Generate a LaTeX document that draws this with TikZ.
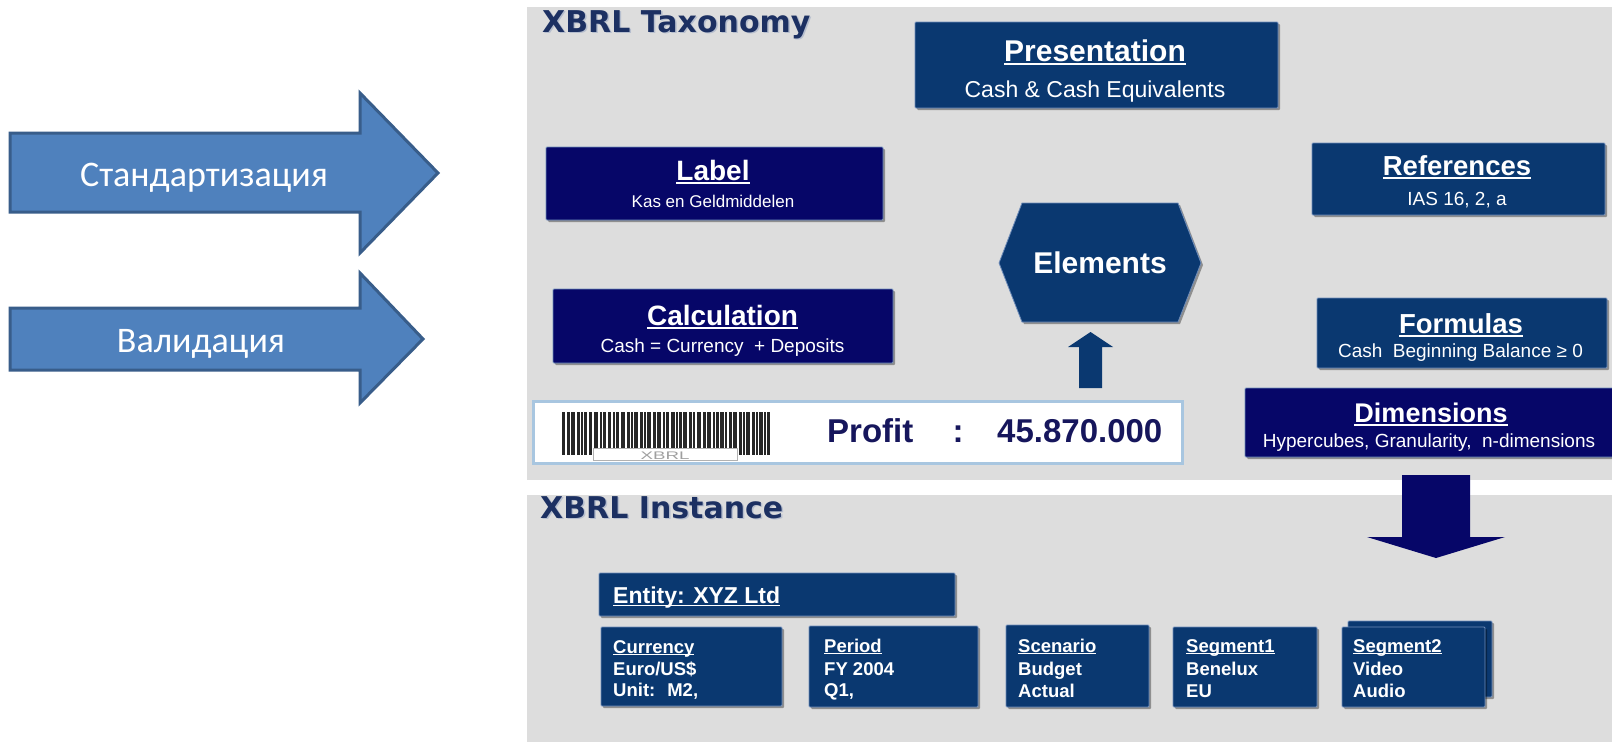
\documentclass[tikz,border=0pt]{standalone}
\usepackage{fontspec}
\setmainfont{Liberation Sans}
\newfontfamily\verd{DejaVu Sans}
\newfontfamily\calib{Carlito}
\usetikzlibrary{shadows}
\definecolor{dblue}{RGB}{10,56,112}
\definecolor{navyb}{RGB}{6,6,104}
\definecolor{panel}{RGB}{221,221,221}
\definecolor{arrowfill}{RGB}{79,129,189}
\definecolor{arrowedge}{RGB}{56,93,138}
\definecolor{titlecol}{RGB}{28,48,98}
\definecolor{tshadow}{RGB}{182,190,206}
\definecolor{profcol}{RGB}{22,22,92}
\definecolor{barborder}{RGB}{168,198,224}
\definecolor{boxedge}{RGB}{110,140,185}
\newcommand\myul[1]{\leavevmode\setbox0=\hbox{#1}\rlap{\rule[-0.13em]{\wd0}{0.065em}}\box0}
\newcommand\fsz[1]{\fontsize{#1}{#1}\selectfont}
\tikzset{
  shd/.style={drop shadow={shadow xshift=2pt,shadow yshift=-2pt,opacity=0.35,fill=black}},
  boxD/.style={shd,fill=dblue,draw=boxedge,line width=0.8pt,inner sep=0pt,rounded corners=1pt},
  boxN/.style={shd,fill=navyb,draw=boxedge,line width=0.8pt,inner sep=0pt,rounded corners=1pt},
  wt/.style={text=white,inner sep=0pt,anchor=base},
  wl/.style={text=white,inner sep=0pt,anchor=base west,font=\fsz{18.5}\bfseries},
  bigarrow/.style={fill=arrowfill,draw=arrowedge,line width=3pt,line join=miter},
  ttl/.style={inner sep=0pt,anchor=base west,font=\verd\fsz{30}\bfseries},
}
\begin{document}
\begin{tikzpicture}[x=1pt,y=-1pt]
\useasboundingbox (0,0) rectangle (1612,744);
\fill[white] (0,0) rectangle (1612,744);

% left arrows
\draw[bigarrow] (10,133) -- (360,133) -- (360,93) -- (438,173) -- (360,253) -- (360,212) -- (10,212) -- cycle;
\node[text=white,inner sep=0pt,anchor=base,font=\calib\fsz{36}] (std) at (204,186) {Стандартизация};
\draw[bigarrow] (10,308) -- (360,308) -- (360,273) -- (423,339) -- (360,403) -- (360,370) -- (10,370) -- cycle;
\node[text=white,inner sep=0pt,anchor=base,font=\calib\fsz{36}] (val) at (201,352) {Валидация};

% panels
\fill[panel] (527,7) rectangle (1612,480);
\fill[panel] (527,495) rectangle (1612,742);

% titles
\node[ttl,text=tshadow] at (543.5,33.5) {XBRL Taxonomy};
\node[ttl,text=titlecol] (ttax) at (542,32) {XBRL Taxonomy};
\node[ttl,text=tshadow] at (541.5,519.5) {XBRL Instance};
\node[ttl,text=titlecol] (tinst) at (540,518) {XBRL Instance};

% taxonomy boxes
\node[boxD,minimum width=363pt,minimum height=86pt] (pres) at (1096.5,65) {};
\node[wt,font=\fsz{30}\bfseries] at (1095,61) {\myul{Presentation}};
\node[wt,font=\fsz{23}] at (1095,97) {Cash \& Cash Equivalents};

\node[boxN,minimum width=337pt,minimum height=73pt] (label) at (714.5,183.5) {};
\node[wt,font=\fsz{28}\bfseries] at (713,180) {\myul{Label}};
\node[wt,font=\fsz{17}] at (713,207) {Kas en Geldmiddelen};

\node[boxN,minimum width=340pt,minimum height=74pt] (calc) at (723,326) {};
\node[wt,font=\fsz{28}\bfseries] at (722.5,325) {\myul{Calculation}};
\node[wt,font=\fsz{19}] at (722.5,352) {Cash = Currency~ + Deposits};

\node[boxD,minimum width=293pt,minimum height=72pt] (refs) at (1458.5,179) {};
\node[wt,font=\fsz{27.5}\bfseries] at (1457,175) {\myul{References}};
\node[wt,font=\fsz{19}] at (1457,205) {IAS 16, 2, a};

\node[boxD,minimum width=290pt,minimum height=70pt] (form) at (1462,333) {};
\node[wt,font=\fsz{27.5}\bfseries] at (1461,333) {\myul{Formulas}};
\node[wt,font=\fsz{19}] at (1460.5,357) {Cash~ Beginning Balance ≥ 0};

\node[boxN,minimum width=373pt,minimum height=69pt] (dims) at (1431.5,422.5) {};
\node[wt,font=\fsz{27}\bfseries] at (1431,422) {\myul{Dimensions}};
\node[wt,font=\fsz{19}] at (1429,447) {Hypercubes, Granularity,~ n-dimensions};

% elements hexagon
\fill[dblue,draw=boxedge,line width=0.8pt,shd] (1022,203) -- (1178,203) -- (1201,263) -- (1178,322) -- (1022,322) -- (999,263) -- cycle;
\node[wt,font=\fsz{30}\bfseries] (elem) at (1100,273) {Elements};

% up arrow
\fill[dblue] (1079,388) -- (1079,347) -- (1068,347) -- (1090.5,332) -- (1113,347) -- (1102,347) -- (1102,388) -- cycle;

% profit bar
\node[fill=white,draw=barborder,line width=3pt,minimum width=649pt,minimum height=62pt,inner sep=0pt] (profit) at (857.5,432) {};
\foreach \o/\w in {0/3,5/3,9/4,15/3,19/2,22/3,27/3,32/4,38/2,41/3,46/3,51/2,54/3,59/4,65/3,69/2,72/4,78/3,82/2,85/4,91/3,95/4,101/2,104/3,109/4,114/2,117/3,121/4,127/3,131/2,135/4,141/3,145/4,151/2,154/3,158/4,163/2,167/3,171/4,177/3,181/2,184/4,190/3,194/2,197/4,202/2,205/3}
  \fill[black!85] (562+\o,412) rectangle (562+\o+\w,455);
\node[fill=white,draw=gray!60,line width=0.6pt,minimum width=144pt,minimum height=12pt,inner sep=0pt] (bclabel) at (665,454) {};
\node[inner sep=0pt,anchor=base,text=gray!75,font=\fsz{11}] at (665,459) {\scalebox{1.7}[1]{XBRL}};
\node[inner sep=0pt,anchor=base west,text=profcol,font=\fsz{33}\bfseries] (ptext) at (827,442) {Profit};
\node[inner sep=0pt,anchor=base,text=profcol,font=\fsz{33}\bfseries] at (958,442) {:};
\node[inner sep=0pt,anchor=base west,text=profcol,font=\fsz{33}\bfseries] (pval) at (997,442) {45.870.000};

% down arrow
\fill[navyb] (1402,475) -- (1470,475) -- (1470,537) -- (1505,537) -- (1436,558) -- (1367,537) -- (1402,537) -- cycle;

% instance boxes
\node[boxD,minimum width=356pt,minimum height=43pt] (entity) at (777,594.5) {};
\node[wl,font=\fsz{23}\bfseries] at (613,603) {\myul{Entity: XYZ Ltd}};

\node[boxD,minimum width=181pt,minimum height=79pt] (cur) at (691.5,666.5) {};
\node[wl] at (613,653) {\myul{Currency}};
\node[wl] at (613,675) {Euro/US\$};
\node[wl] at (613,696) {Unit:~ M2,};

\node[boxD,minimum width=169pt,minimum height=81pt] (per) at (893.5,666.5) {};
\node[wl] at (824,652) {\myul{Period}};
\node[wl] at (824,675) {FY 2004};
\node[wl] at (824,696) {Q1,};

\node[boxD,minimum width=143pt,minimum height=82pt] (scen) at (1077.5,666) {};
\node[wl] at (1018,652) {\myul{Scenario}};
\node[wl] at (1018,675) {Budget};
\node[wl] at (1018,697) {Actual};

\node[boxD,minimum width=144pt,minimum height=80pt] (seg1) at (1245,667) {};
\node[wl] at (1186,652) {\myul{Segment1}};
\node[wl] at (1186,675) {Benelux};
\node[wl] at (1186,697) {EU};

\node[boxD,minimum width=144pt,minimum height=76pt] (seg2b) at (1420,659) {};
\node[boxD,minimum width=143pt,minimum height=80pt] (seg2) at (1413.5,667) {};
\node[wl] at (1353,652) {\myul{Segment2}};
\node[wl] at (1353,675) {Video};
\node[wl] at (1353,697) {Audio};
\end{tikzpicture}
\end{document}
